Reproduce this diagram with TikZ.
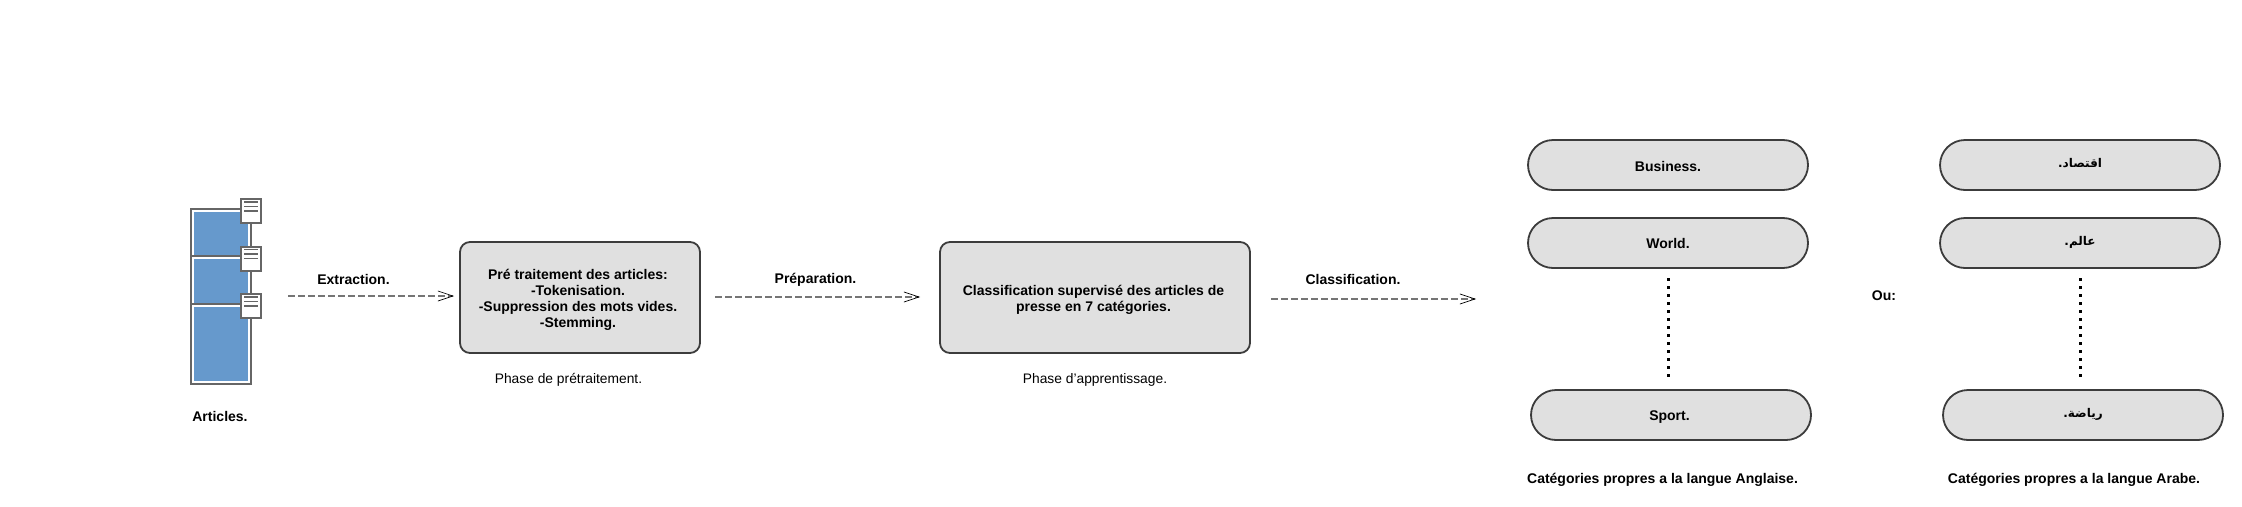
\documentclass[tikz,border=0pt]{standalone}
\usepackage{fontspec}
\setmainfont{Liberation Sans}
\newfontfamily\arabicfont[Script=Arabic]{DejaVu Sans}
\TeXXeTstate=1
\usetikzlibrary{arrows.meta}
\definecolor{boxfill}{HTML}{E0E0E0}
\definecolor{boxline}{HTML}{3C3C3C}
\definecolor{iconline}{HTML}{666666}
\definecolor{iconblue}{HTML}{6699CC}
\tikzset{
  lbl/.style={inner sep=0pt,align=center,font=\fontsize{14}{16}\selectfont\bfseries},
  arlbl/.style={inner sep=0pt,align=center,font=\arabicfont\fontsize{12}{14}\selectfont\bfseries},
  plainlbl/.style={inner sep=0pt,align=center,font=\fontsize{13.8}{16}\selectfont},
  procbox/.style={draw=boxline,fill=boxfill,line width=1.8pt,rounded corners=10pt,inner sep=0pt},
  pill/.style={draw=boxline,fill=boxfill,line width=1.8pt,rounded corners=25pt,minimum width=280pt,minimum height=50pt,inner sep=0pt},
  flow/.style={draw=iconline!90,line width=1.3pt,dash pattern=on 7pt off 3pt,-{Straight Barb[length=15pt,width=10pt,color=black,line width=0.7pt]}},
  dots/.style={draw=black,line width=2.6pt,dash pattern=on 2.6pt off 5.4pt},
  frameline/.style={draw=iconline,line width=2.4pt},
  docbox/.style={draw=iconline,fill=white,line width=2pt},
  docline/.style={draw=iconline,line width=1.6pt},
}
\begin{document}
\begin{tikzpicture}[x=1pt,y=-1pt]
\useasboundingbox (0,0) rectangle (2242,506);
% article stack icon
\fill[iconblue] (194,212) rectangle (248,255);
\fill[iconblue] (194,259) rectangle (248,303);
\fill[iconblue] (194,307) rectangle (248,381);
\draw[frameline] (191,209) rectangle (251,384);
\draw[frameline] (191,256) -- (251,256);
\draw[frameline] (191,304) -- (251,304);
\foreach \t in {199,246.5,294}{
  \draw[docbox] (241,\t) rectangle (261,\t+24);
  \foreach \d in {3,7.5,12}{\draw[docline] (244,\t+\d) -- (258,\t+\d);}
}
\node[lbl] (articles) at (220,416) {Articles.};

\node[procbox,minimum width=240pt,minimum height=111pt] (pre) at (580,297.5) {};
\node[lbl] (pretxt) at (578,300) {Pré traitement des articles:\\-Tokenisation.\\-Suppression des mots vides.\\-Stemming.};
\node[plainlbl] (prelbl) at (568.5,380) {Phase de prétraitement.};
\node[procbox,minimum width=310pt,minimum height=111pt] (clf) at (1095,297.5) {};
\node[lbl] (clftxt) at (1093.5,299.5) {Classification supervisé des articles de\\presse en 7 catégories.};
\node[plainlbl] (clflbl) at (1095,380) {Phase d'apprentissage.};

\coordinate (a1s) at (288,296); \coordinate (a1e) at (454,296);
\coordinate (a2s) at (715,297); \coordinate (a2e) at (920,297);
\coordinate (a3s) at (1271,299); \coordinate (a3e) at (1476,299);
\draw[flow] (a1s) -- (a1e);
\draw[flow] (a2s) -- (a2e);
\draw[flow] (a3s) -- (a3e);
\node[lbl] (extr) at (353.5,279.5) {Extraction.};
\node[lbl] (prep) at (815.5,280) {Préparation.};
\node[lbl] (clas) at (1353,279.5) {Classification.};

\node[pill] (bus) at (1668,165) {};
\node[lbl] (bustxt) at (1668,166) {Business.};
\node[pill] (wor) at (1668,243) {};
\node[lbl] (wortxt) at (1668,243.5) {World.};
\node[pill] (spo) at (1671,415) {};
\node[lbl] (spotxt) at (1669.5,417) {Sport.};
\coordinate (d1s) at (1668.5,278); \coordinate (d1e) at (1668.5,378);
\draw[dots] (d1s) -- (d1e);
\node[lbl] (ou) at (1884,295.5) {Ou:};
\node[lbl] (catEn) at (1662.5,480) {Catégories propres a la langue Anglaise.};

\node[pill] (ar1) at (2080,165) {};
\node[arlbl] (ar1txt) at (2080,163.5) {\beginR اقتصاد.\endR};
\node[pill] (ar2) at (2080,243) {};
\node[arlbl] (ar2txt) at (2080,242) {\beginR عالم.\endR};
\node[pill] (ar3) at (2083,415) {};
\node[arlbl] (ar3txt) at (2083,414) {\beginR رياضة.\endR};
\coordinate (d2s) at (2080.5,278); \coordinate (d2e) at (2080.5,378);
\draw[dots] (d2s) -- (d2e);
\node[lbl] (catAr) at (2074,480) {Catégories propres a la langue Arabe.};
\end{tikzpicture}
\end{document}
